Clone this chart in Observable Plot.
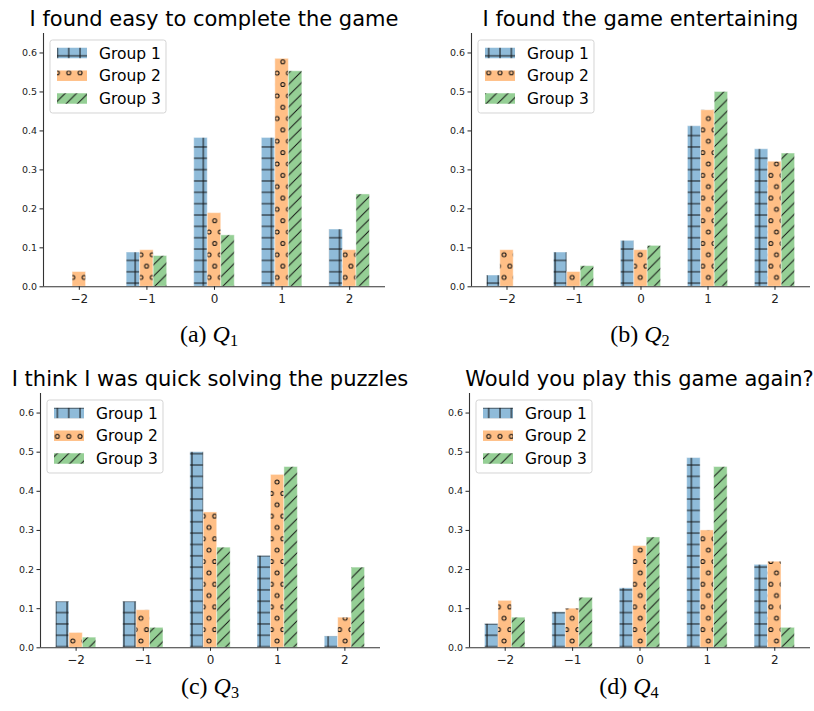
<!DOCTYPE html>
<html>
<head>
<meta charset="utf-8">
<script src="https://cdn.jsdelivr.net/npm/d3@7"></script>
<script src="https://cdn.jsdelivr.net/npm/@observablehq/plot@0.6"></script>
<style>
  body { margin: 0; background: #fff; }
  #page { position: relative; width: 814px; height: 711px; overflow: hidden; font-family: "DejaVu Sans", sans-serif; }
  .title { position: absolute; width: 500px; text-align: center; font-size: 21px; line-height: 21px; color: #000; white-space: nowrap; }
  .caption { position: absolute; width: 200px; text-align: center; font-family: "Liberation Serif", serif; font-size: 24px; line-height: 24px; color: #000; white-space: nowrap; }
  .caption sub { font-size: 0.68em; vertical-align: -0.25em; line-height: 0; }
  .panel { position: absolute; }
</style>
</head>
<body>
<div id="page"></div>
<script>
// Likert answers on the x axis
const answers = [-2, -1, 0, 1, 2];
const groups = ["Group 1", "Group 2", "Group 3"];
const yTicks = [0, 0.1, 0.2, 0.3, 0.4, 0.5, 0.6];

const titles = [
  "I found easy to complete the game",
  "I found the game entertaining",
  "I think I was quick solving the puzzles",
  "Would you play this game again?"
];
const captionLetters = ["a", "b", "c", "d"];
const captionIndex = ["1", "2", "3", "4"];

// Share of answers per group, for each question
const q1Group1 = [0, 0.088, 0.382, 0.382, 0.147];
const q1Group2 = [0.038, 0.094, 0.189, 0.585, 0.094];
const q1Group3 = [0, 0.079, 0.132, 0.553, 0.237];

const q2Group1 = [0.029, 0.088, 0.118, 0.412, 0.353];
const q2Group2 = [0.094, 0.038, 0.094, 0.453, 0.321];
const q2Group3 = [0, 0.053, 0.105, 0.5, 0.342];

const q3Group1 = [0.118, 0.118, 0.5, 0.235, 0.029];
const q3Group2 = [0.038, 0.096, 0.346, 0.442, 0.077];
const q3Group3 = [0.026, 0.051, 0.256, 0.462, 0.205];

const q4Group1 = [0.061, 0.091, 0.152, 0.485, 0.212];
const q4Group2 = [0.12, 0.1, 0.26, 0.3, 0.22];
const q4Group3 = [0.077, 0.128, 0.282, 0.462, 0.051];

const questions = [
  [q1Group1, q1Group2, q1Group3],
  [q2Group1, q2Group2, q2Group3],
  [q3Group1, q3Group2, q3Group3],
  [q4Group1, q4Group2, q4Group3]
];

// Styling
const barColors = ["#8fbbd9", "#ffbf86", "#95cf95"];
const hatchColor = "#111";
const groupOffset = [-0.2, 0, 0.2];
const barWidth = 0.2;
const xDomain = [-2.53, 2.53];
const yDomain = [0, 0.65];
const hatchStep = 11.35;
const hatchOrigin = [4.7, 5.05];

// Panel geometry (plot area of each subplot on the page)
const axLeft = [43, 471, 40, 469];
const axTop = [33, 33, 392.7, 392.7];
const axWidth = [342, 339, 340, 341];
const axHeight = [253.3, 253.3, 254.3, 254.3];
const titleBaseline = [27, 27, 387, 387];
const captionCenter = [209, 640, 210, 629];
const captionBaseline = [342, 342, 694, 694];

const M = {left: 40, right: 4, top: 4, bottom: 26};
const page = document.getElementById("page");

function hatchDefs(i, svgLeft, svgTop) {
  const s = hatchStep;
  const ox = hatchOrigin[0] - svgLeft;
  const oy = hatchOrigin[1] - svgTop;
  const r = 2.0;
  return `<defs>
  <pattern id="h${i}-0" patternUnits="userSpaceOnUse" x="${ox}" y="${oy}" width="${s}" height="${s}">
    <rect width="${s}" height="${s}" fill="${barColors[0]}"/>
    <path d="M0,${s / 2}H${s}M${s / 2},0V${s}" stroke="${hatchColor}" stroke-width="1" fill="none"/>
  </pattern>
  <pattern id="h${i}-1" patternUnits="userSpaceOnUse" x="${ox}" y="${oy}" width="${s}" height="${2 * s}">
    <rect width="${s}" height="${2 * s}" fill="${barColors[1]}"/>
    <g fill="none" stroke="${hatchColor}" stroke-width="1">
      <circle cx="0" cy="0" r="${r}"/><circle cx="${s}" cy="0" r="${r}"/>
      <circle cx="0" cy="${2 * s}" r="${r}"/><circle cx="${s}" cy="${2 * s}" r="${r}"/>
      <circle cx="${s / 2}" cy="${s}" r="${r}"/>
    </g>
  </pattern>
  <pattern id="h${i}-2" patternUnits="userSpaceOnUse" x="${ox}" y="${oy}" width="${s}" height="${s}">
    <rect width="${s}" height="${s}" fill="${barColors[2]}"/>
    <path d="M0,${s}L${s},0M-1,1L1,-1M${s - 1},${s + 1}L${s + 1},${s - 1}" stroke="${hatchColor}" stroke-width="1" fill="none"/>
  </pattern>
  </defs>`;
}

questions.forEach((series, i) => {
  const rows = [];
  series.forEach((values, j) => {
    values.forEach((v, k) => rows.push({answer: answers[k], group: j, value: v}));
  });

  const width = axWidth[i] + M.left + M.right;
  const height = axHeight[i] + M.top + M.bottom;
  const svgLeft = axLeft[i] - M.left;
  const svgTop = axTop[i] - M.top;

  const svg = Plot.plot({
    width, height,
    marginLeft: M.left, marginRight: M.right, marginTop: M.top, marginBottom: M.bottom,
    style: {fontFamily: "DejaVu Sans, sans-serif", background: "transparent", color: "#222", overflow: "visible"},
    x: {domain: xDomain},
    y: {domain: yDomain},
    marks: [
      ...groups.map((g, j) => Plot.rect(rows.filter(d => d.group === j && d.value > 0), {
        x1: d => d.answer + groupOffset[j] - barWidth / 2,
        x2: d => d.answer + groupOffset[j] + barWidth / 2,
        y1: 0,
        y2: "value",
        fill: `url(#h${i}-${j})`,
        stroke: "#fff",
        strokeOpacity: 0.45,
        strokeWidth: 1
      })),
      Plot.ruleX([xDomain[0]], {stroke: "#333", strokeWidth: 1.1}),
      Plot.ruleY([0], {stroke: "#333", strokeWidth: 1.1}),
      Plot.axisY({ticks: yTicks, tickFormat: d3.format(".1f"), tickSize: 3.5, tickPadding: 3, fontSize: 9.5, label: null}),
      Plot.axisX({ticks: answers, tickFormat: d3.format("d"), tickSize: 3.5, tickPadding: 4.5, fontSize: 12, label: null})
    ]
  });

  svg.insertAdjacentHTML("afterbegin", hatchDefs(i, svgLeft, svgTop));

  // Legend in the upper-left corner of the plot area
  const leg = d3.select(svg).append("g")
    .attr("transform", `translate(${M.left + 7},${M.top + 7})`)
    .attr("text-anchor", "start");
  leg.append("rect")
    .attr("width", 116).attr("height", 73).attr("rx", 2.5)
    .attr("fill", "#fff").attr("fill-opacity", 0.85)
    .attr("stroke", "#d4d4d4").attr("stroke-width", 1);
  const rowCenters = [13, 35.7, 58.5];
  groups.forEach((g, j) => {
    leg.append("rect")
      .attr("x", 7).attr("y", rowCenters[j] - 5.25)
      .attr("width", 30).attr("height", 10.5)
      .attr("fill", `url(#h${i}-${j})`);
    leg.append("text")
      .attr("x", 49).attr("y", rowCenters[j])
      .attr("dy", "0.36em")
      .attr("font-size", 15.5)
      .attr("fill", "#000")
      .attr("text-anchor", "start")
      .text(g);
  });

  const holder = document.createElement("div");
  holder.className = "panel";
  holder.style.left = svgLeft + "px";
  holder.style.top = svgTop + "px";
  holder.appendChild(svg);
  page.appendChild(holder);

  const t = document.createElement("div");
  t.className = "title";
  t.textContent = titles[i];
  t.style.left = (axLeft[i] + axWidth[i] / 2 - 250) + "px";
  t.style.top = (titleBaseline[i] - 17.8) + "px";
  page.appendChild(t);

  const c = document.createElement("div");
  c.className = "caption";
  c.innerHTML = `(${captionLetters[i]}) <i>Q</i><sub>${captionIndex[i]}</sub>`;
  c.style.left = (captionCenter[i] - 100) + "px";
  c.style.top = (captionBaseline[i] - 20.1) + "px";
  page.appendChild(c);
});
</script>
</body>
</html>
